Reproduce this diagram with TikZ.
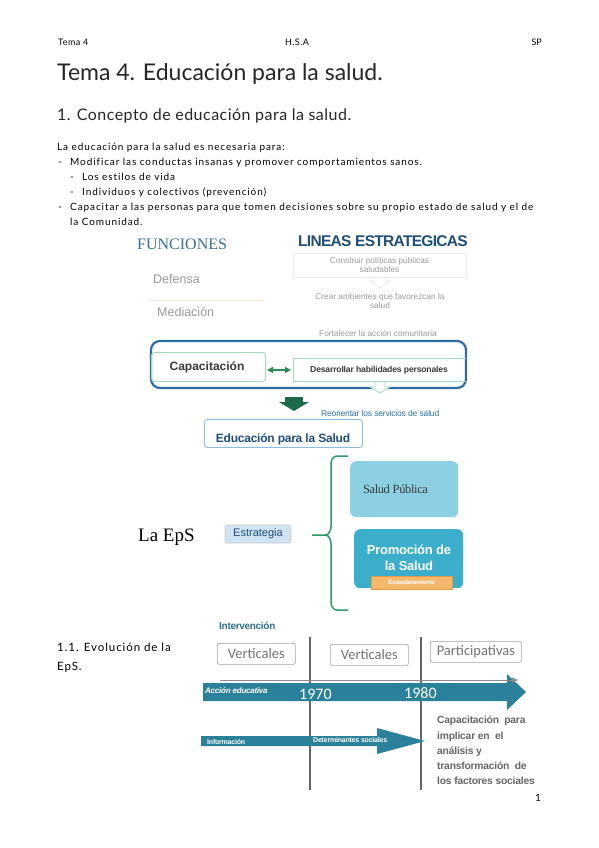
\documentclass[tikz,border=0pt]{standalone}
\usepackage{fontspec}
\setmainfont{Lato}[Ligatures=NoCommon]
\newfontfamily\arialf{Liberation Sans}
\newfontfamily\timesf{Liberation Serif}
\newfontfamily\calib{Carlito}
\usetikzlibrary{arrows.meta,shapes.arrows,decorations.pathreplacing}
\definecolor{funcblue}{HTML}{3B6E8F}
\definecolor{lineasblue}{HTML}{1F4E79}
\definecolor{gtext}{HTML}{9A9A9A}
\definecolor{capborder}{HTML}{2F6DA3}
\definecolor{lgreen}{HTML}{A6D8BE}
\definecolor{greenarr}{HTML}{2E8B57}
\definecolor{dgreen}{HTML}{1D6B4A}
\definecolor{reblue}{HTML}{2E6FA8}
\definecolor{eduborder}{HTML}{8DBBDD}
\definecolor{bracegreen}{HTML}{2E9A6A}
\definecolor{spfill}{HTML}{8DD0E3}
\definecolor{prfill}{HTML}{3AAECB}
\definecolor{orfill}{HTML}{F5B86A}
\definecolor{orborder}{HTML}{E09A4A}
\definecolor{esfill}{HTML}{CFE3F3}
\definecolor{teal}{HTML}{2A8199}
\definecolor{intcol}{HTML}{2F6F86}
\definecolor{boxgray}{HTML}{A0A0A0}
\definecolor{dtext}{HTML}{3A3A3A}
\tikzset{
  txt/.style={anchor=base west, inner sep=0pt},
  ctxt/.style={anchor=base, inner sep=0pt},
  body/.style={txt, font=\fontsize{10}{11}\selectfont\addfontfeature{LetterSpace=9}},
  gray/.style={text=gtext, font=\arialf\fontsize{8.3}{9.5}\selectfont, align=center, inner sep=0pt},
  vbox/.style={draw=boxgray, rounded corners=2pt, line width=0.7pt, text=gray!90!black, font=\calib\fontsize{14.5}{16}\selectfont, inner sep=0pt, minimum height=21pt},
}
\begin{document}
\begin{tikzpicture}[x=1pt,y=-1pt]
\useasboundingbox (0,0) rectangle (599,848);
\fill[white] (0,0) rectangle (599,848);
% header
\node[txt, font=\fontsize{9}{10}\selectfont\addfontfeature{LetterSpace=5}] (h1) at (58,46) {Tema 4};
\node[ctxt, font=\fontsize{9}{10}\selectfont\addfontfeature{LetterSpace=5}] (h2) at (297,46) {H.S.A};
\node[anchor=base east, inner sep=0pt, font=\fontsize{9}{10}\selectfont] (h3) at (542,46) {SP};
\node[txt, font=\fontsize{23}{25}\selectfont, text=black!85] (title) at (57,81) {Tema 4. Educación para la salud.};
\node[txt, font=\fontsize{16}{18}\selectfont\addfontfeature{LetterSpace=3}, text=black!85] (sec) at (57,121) {1. Concepto de educación para la salud.};
% body
\node[body] (b0) at (57,150.5) {La educación para la salud es necesaria para:};
\node[body] (d1) at (58,165.5) {-};
\node[body] (b1) at (70,165.5) {Modificar las conductas insanas y promover comportamientos sanos.};
\node[body] (d2) at (70,180.5) {-};
\node[body] (b2) at (82,180.5) {Los estilos de vida};
\node[body] (d3) at (70,195.5) {-};
\node[body] (b3) at (82,195.5) {Individuos y colectivos (prevención)};
\node[body] (d4) at (58,210.5) {-};
\node[body] (b4) at (70,210.5) {Capacitar a las personas para que tomen decisiones sobre su propio estado de salud y el de};
\node[body] (b5) at (70,225.5) {la Comunidad.};
% funciones
\node[txt, font=\timesf\fontsize{16}{18}\selectfont, text=funcblue] (func) at (137,249.5) {FUNCIONES};
\node[txt, font=\arialf\fontsize{12.5}{14}\selectfont, text=gtext] (def) at (153,283) {Defensa};
\draw[draw=orfill!30!white, line width=0.8pt] (147,300) -- (265,300);
\node[txt, font=\arialf\fontsize{12.5}{14}\selectfont, text=gtext] (med) at (157,316) {Mediación};
% lineas
\node[txt, font=\arialf\bfseries\fontsize{15.5}{17}\selectfont\addfontfeature{LetterSpace=-4.5}, text=lineasblue] (lin) at (298,246) {LINEAS ESTRATEGICAS};
\node[draw=black!8, line width=0.6pt, minimum width=173pt, minimum height=24pt, inner sep=0pt] (cons) at (379.5,265) {};
\node[gray] (const) at (cons) {Construir políticas públicas\\saludables};
\draw[draw=black!10, line width=0.6pt] (374,277) -- (374,281) -- (370,281) -- (380,288) -- (390,281) -- (386,281) -- (386,277);
\node[gray] (crear) at (380,301) {Crear ambientes que favorezcan la\\salud};
\node[gray] (fort) at (378,333) {Fortalecer la acción comunitaria};
% capacitacion block
\draw[draw=capborder, line width=2.2pt, rounded corners=9pt] (151,341) rectangle (466,388);
\node[draw=lgreen, line width=1pt, rounded corners=3pt, minimum width=114pt, minimum height=29pt, inner sep=0pt, anchor=north west] (cap) at (151,352) {};
\node[font=\arialf\bfseries\fontsize{12}{14}\selectfont, text=dtext, inner sep=0pt] (capt) at (207,367) {Capacitación};
\draw[draw=lgreen, line width=1pt] (466,358) -- (293,358) -- (293,381) -- (466,381);
\node[coordinate] (dhp) at (293,370) {};
\node[font=\arialf\bfseries\fontsize{8.6}{10}\selectfont\addfontfeature{LetterSpace=-2}, text=dtext, inner sep=0pt] (dhpt) at (379,370) {Desarrollar habilidades personales};
\draw[{Triangle[length=6pt,width=6pt]}-{Triangle[length=6pt,width=6pt]}, draw=greenarr, fill=greenarr, line width=1.5pt] (cap.east |- dhp) ++(1,0) -- ([xshift=-2pt]dhp);
\draw[draw=lgreen, line width=0.8pt, fill=white] (375,382) -- (375,387) -- (370,387) -- (380,393) -- (390,387) -- (385,387) -- (385,382);
% dark green arrow
\fill[dgreen] (285,397) rectangle (303,402);
\fill[dgreen] (279,402) -- (309,402) -- (294,411) -- cycle;
\node[txt, font=\arialf\fontsize{8.5}{10}\selectfont\addfontfeature{LetterSpace=-2}, text=reblue] (reo) at (321,416) {Reorientar los servicios de salud};
% educacion para la salud
\node[draw=eduborder, line width=0.9pt, rounded corners=3pt, minimum width=158pt, minimum height=28pt, inner sep=0pt, anchor=north west] (eps) at (204,419) {};
\node[font=\arialf\bfseries\fontsize{12}{14}\selectfont\addfontfeature{LetterSpace=-2}, text=lineasblue, inner sep=0pt] (epst) at (283,439) {Educación para la Salud};
% La EpS
\node[txt, font=\timesf\fontsize{19}{21}\selectfont] (la) at (138,541) {La EpS};
\node[draw=black!20, fill=esfill, line width=0.6pt, rounded corners=2pt, minimum width=66pt, minimum height=18pt, inner sep=0pt, font=\arialf\fontsize{11}{13}\selectfont, text=lineasblue] (est) at (258,534) {Estrategia};
% brace
\draw[draw=bracegreen, line width=1.5pt] (348,456) -- (337,456) to[out=180,in=90] (331,464) -- (331,526) to[out=-90,in=0] (325,535) -- (312,535);
\draw[draw=bracegreen, line width=1.5pt] (325,535) to[out=0,in=90] (331,544) -- (331,602) to[out=-90,in=180] (337,610) -- (348,610);
% boxes
\node[fill=spfill, rounded corners=6pt, minimum width=108pt, minimum height=56pt, inner sep=0pt, anchor=north west] (sp) at (350,461) {};
\node[font=\timesf\fontsize{12.5}{14}\selectfont\addfontfeature{LetterSpace=-3}, text=dtext, inner sep=0pt] (spt) at (395.5,489) {Salud Pública};
\node[fill=prfill, rounded corners=6pt, minimum width=109pt, minimum height=59pt, inner sep=0pt, anchor=north west] (pr) at (354,529) {};
\node[font=\arialf\bfseries\fontsize{13}{16}\selectfont\addfontfeature{LetterSpace=-2}, text=white, align=center, inner sep=0pt] (prt) at (409,558) {Promoción de\\la Salud};
\node[draw=orborder, fill=orfill, line width=0.5pt, minimum width=81pt, minimum height=13pt, inner sep=0pt, font=\arialf\bfseries\fontsize{6}{7}\selectfont\addfontfeature{LetterSpace=-3}, text=white, anchor=north west] (emp) at (371,576) {Empoderamiento};
% Evolucion
\node[txt, font=\arialf\bfseries\fontsize{10}{12}\selectfont\addfontfeature{LetterSpace=-3}, text=intcol] (int) at (219,629) {Intervención};
\node[txt, font=\fontsize{11.5}{13}\selectfont\addfontfeature{LetterSpace=8}] (ev1) at (57,651) {1.1. Evolución de la};
\node[txt, font=\fontsize{11.5}{13}\selectfont\addfontfeature{LetterSpace=8}] (ev2) at (57,670) {EpS.};
\node[coordinate] (v1t) at (310,637) {};
\node[coordinate] (v1b) at (310,790) {};
\node[coordinate] (v2t) at (421,637) {};
\node[coordinate] (v2b) at (421,790) {};
\draw[draw=black!60, line width=1.5pt] (v1t) -- (v1b);
\draw[draw=black!60, line width=1.5pt] (v2t) -- (v2b);
\node[vbox, minimum width=78pt, anchor=north west] (ver1) at (217,643) {Verticales};
\node[vbox, minimum width=78pt, anchor=north west] (ver2) at (330,644) {Verticales};
\node[vbox, minimum width=91pt, anchor=north west] (par) at (430,641) {Participativas};
% big arrow
\fill[teal] (203,683) -- (507,683) -- (507,674) -- (526,692) -- (507,710) -- (507,701) -- (203,701) -- cycle;
\node[coordinate] (ta) at (220,680) {};
\node[coordinate] (tb) at (518,680) {};
\draw[draw=black!45, line width=1pt, -{Triangle[length=6pt,width=5pt]}] (ta) -- (tb);
\node[txt, font=\arialf\bfseries\itshape\fontsize{8}{9}\selectfont\addfontfeature{LetterSpace=-3}, text=white] (acc) at (205,693) {Acción educativa};
\node[txt, font=\calib\fontsize{16}{18}\selectfont, text=white] (y70) at (299,699) {1970};
\node[txt, font=\calib\fontsize{16}{18}\selectfont, text=white] (y80) at (404,698) {1980};
% info arrow
\fill[teal] (201,736) -- (377,736) -- (377,728) -- (425,741) -- (377,754) -- (377,746) -- (201,746) -- cycle;
\node[txt, font=\arialf\bfseries\fontsize{7}{8}\selectfont\addfontfeature{LetterSpace=-3}, text=white] (inf) at (207,744.5) {Información};
\node[txt, font=\arialf\bfseries\fontsize{7}{8}\selectfont\addfontfeature{LetterSpace=-3}, text=white] (det) at (313,742.5) {Determinantes sociales};
\node[anchor=north west, inner sep=0pt, font=\arialf\bfseries\fontsize{10.3}{15.3}\selectfont\addfontfeature{LetterSpace=-2}, text=black!60, align=left] (capf) at (437,716) {Capacitación\ \ para\\implicar en\ \ el\\análisis y\\transformación\ \ de\\los factores sociales};
\node[anchor=base east, inner sep=0pt, font=\fontsize{10}{11}\selectfont] (pg) at (541,801) {1};
\end{tikzpicture}
\end{document}
